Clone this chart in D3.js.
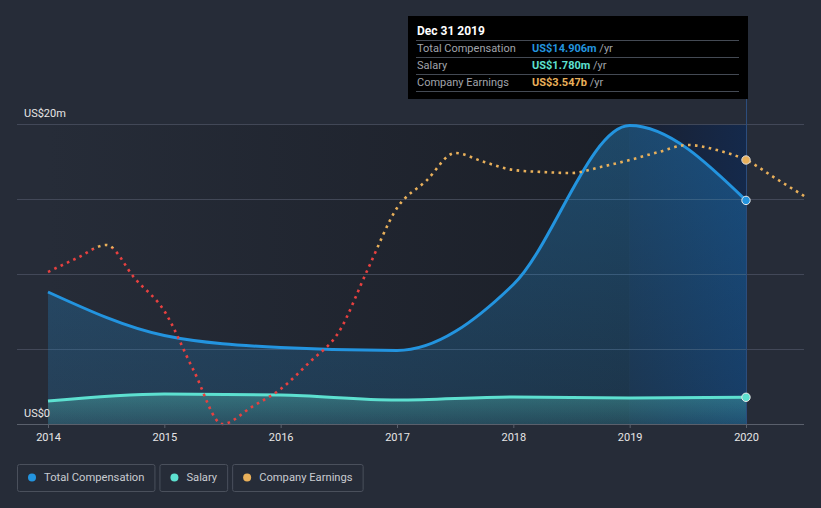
<!DOCTYPE html>
<html><head><meta charset="utf-8">
<script src="https://cdn.jsdelivr.net/npm/d3@7"></script>
<style>
html,body{margin:0;padding:0;background:#262c38;}
svg{display:block;font-family:Roboto,"Noto Sans",sans-serif;}
</style></head>
<body><svg id="c" width="821" height="508"></svg>
<script>
// ---- data ----
const compYears = [2014, 2015, 2016, 2017, 2018, 2019, 2020];
const totalComp = [8.8, 5.9, 5.1, 4.9, 9.3, 19.9, 14.906];      // US$ m
const salary    = [1.53, 2.0, 1.93, 1.6, 1.8, 1.73, 1.78];      // US$ m
const earnYears = [2014, 2014.25, 2014.5, 2014.75, 2015, 2015.25, 2015.5, 2015.75, 2016, 2016.25, 2016.5, 2016.75,
                   2017, 2017.25, 2017.5, 2017.75, 2018, 2018.25, 2018.5, 2018.75, 2019, 2019.25, 2019.5, 2019.75,
                   2020, 2020.25, 2020.5];
const earnings  = [2.042, 2.230, 2.405, 1.948, 1.518, 0.726, 0.0, 0.228, 0.470, 0.833, 1.236, 2.083,
                   2.902, 3.265, 3.641, 3.520, 3.413, 3.386, 3.372, 3.453, 3.547, 3.655, 3.749, 3.681,
                   3.547, 3.305, 3.063]; // US$ b
const xTicks = [2014, 2015, 2016, 2017, 2018, 2019, 2020];
const yTicks = [0, 5, 10, 15, 20];
const yTickLabels = {0: "US$0", 20: "US$20m"};
const earnThreshold = 2.36;
const tooltipTitle = "Dec 31 2019";
const tooltipRows = [
  {label: "Total Compensation", value: "US$14.906m", color: "#2394df"},
  {label: "Salary", value: "US$1.780m", color: "#5de0d0"},
  {label: "Company Earnings", value: "US$3.547b", color: "#e9b05a"}
];
const legendItems = [
  {label: "Total Compensation", color: "#2394df"},
  {label: "Salary", color: "#5de0d0"},
  {label: "Company Earnings", color: "#e9b05a"}
];

// ---- scales ----
const svg = d3.select("#c");
const x = d3.scaleLinear().domain([2014, 2020]).range([48, 746]);
const y = d3.scaleLinear().domain([0, 20]).range([424, 124]);
const y2 = d3.scaleLinear().domain([0, 3.547]).range([424, 160]);
const yTop = y(20), yBot = y(0);

const defs = svg.append("defs");
const g1 = defs.append("linearGradient").attr("id","plotbg").attr("gradientUnits","userSpaceOnUse")
  .attr("x1", x(2014)).attr("x2", x(2019)).attr("y1",0).attr("y2",0);
g1.append("stop").attr("offset","0").attr("stop-color","#262c38");
g1.append("stop").attr("offset","1").attr("stop-color","#1b1f28");
const g2 = defs.append("linearGradient").attr("id","band").attr("gradientUnits","userSpaceOnUse")
  .attr("x1", x(2019)).attr("x2", x(2020)).attr("y1",0).attr("y2",0);
g2.append("stop").attr("offset","0").attr("stop-color","#1a2030");
g2.append("stop").attr("offset","1").attr("stop-color","#14294b");
const g3 = defs.append("linearGradient").attr("id","compfill").attr("x1",0).attr("x2",0).attr("y1",0).attr("y2",1);
g3.append("stop").attr("offset","0").attr("stop-color","#2394df").attr("stop-opacity",0.35);
g3.append("stop").attr("offset","1").attr("stop-color","#2394df").attr("stop-opacity",0.18);
const g4 = defs.append("linearGradient").attr("id","salfill").attr("x1",0).attr("x2",0).attr("y1",0).attr("y2",1);
g4.append("stop").attr("offset","0").attr("stop-color","#5de0d0").attr("stop-opacity",0.32);
g4.append("stop").attr("offset","1").attr("stop-color","#5de0d0").attr("stop-opacity",0.12);
const g5 = defs.append("linearGradient").attr("id","earnstroke").attr("gradientUnits","userSpaceOnUse")
  .attr("x1",0).attr("x2",0).attr("y1", y2(earnThreshold)-0.5).attr("y2", y2(earnThreshold)+0.5);
g5.append("stop").attr("offset","0").attr("stop-color","#e9b05a");
g5.append("stop").attr("offset","1").attr("stop-color","#e8403f");

// backgrounds
svg.append("rect").attr("x", x(2014)).attr("y", yTop).attr("width", x(2019)-x(2014)).attr("height", yBot-yTop).attr("fill","url(#plotbg)");
svg.append("rect").attr("x", x(2019)).attr("y", yTop).attr("width", x(2020)-x(2019)).attr("height", yBot-yTop).attr("fill","url(#band)");

// gridlines
svg.append("g").selectAll("line").data(yTicks.filter(d=>d>0)).join("line")
  .attr("x1",17).attr("x2",804).attr("y1",d=>y(d)+0.5).attr("y2",d=>y(d)+0.5)
  .attr("stroke","#4a5060").attr("stroke-width",1).attr("opacity",0.8);

const curve = d3.curveMonotoneX;
const compData = compYears.map((d,i)=>({x:d, v: totalComp[i]}));
const salData = compYears.map((d,i)=>({x:d, v: salary[i]}));
const earnData = earnYears.map((d,i)=>({x:d, v: earnings[i]}));

svg.append("path").datum(compData)
  .attr("d", d3.area().x(d=>x(d.x)).y0(yBot).y1(d=>y(d.v)).curve(curve))
  .attr("fill","url(#compfill)");
svg.append("path").datum(salData)
  .attr("d", d3.area().x(d=>x(d.x)).y0(yBot).y1(d=>y(d.v)).curve(curve))
  .attr("fill","url(#salfill)");

// hover line
svg.append("line").attr("x1", x(2020)+0.5).attr("x2", x(2020)+0.5).attr("y1", 99).attr("y2", yBot)
  .attr("stroke","#2c4d7d").attr("stroke-width",1);

svg.append("path").datum(compData)
  .attr("d", d3.line().x(d=>x(d.x)).y(d=>y(d.v)).curve(curve))
  .attr("fill","none").attr("stroke","#2394df").attr("stroke-width",3);
svg.append("path").datum(salData)
  .attr("d", d3.line().x(d=>x(d.x)).y(d=>y(d.v)).curve(curve))
  .attr("fill","none").attr("stroke","#5de0d0").attr("stroke-width",3);
svg.append("path").datum(earnData)
  .attr("d", d3.line().x(d=>x(d.x)).y(d=>y2(d.v)).curve(curve))
  .attr("fill","none").attr("stroke","url(#earnstroke)").attr("stroke-width",2.6)
  .attr("stroke-dasharray","2.6 4.4");

// axis
svg.append("line").attr("x1",17).attr("x2",804).attr("y1",yBot+0.5).attr("y2",yBot+0.5)
  .attr("stroke","#5a606c").attr("stroke-width",1);
const ax = svg.append("g").attr("transform",`translate(0,${yBot})`)
  .call(d3.axisBottom(x).tickValues(xTicks).tickFormat(d3.format("d")).tickSize(4).tickPadding(5));
ax.select(".domain").remove();
ax.selectAll(".tick line").attr("stroke","#5a606c");
ax.selectAll(".tick text").attr("fill","#e6e6e6").attr("font-size",11).attr("font-family","Roboto, sans-serif");

// y labels
svg.append("g").selectAll("text").data(yTicks.filter(d=>yTickLabels[d])).join("text")
  .attr("x",24).attr("y",d=>y(d)-7).attr("fill","#e6e6e6").attr("font-size",11)
  .text(d=>yTickLabels[d]);

// end markers
const last = compYears.length-1;
svg.append("circle").attr("cx",x(2020)).attr("cy",y2(earnings[earnYears.indexOf(2020)])).attr("r",4.2)
  .attr("fill","#e9b05a").attr("stroke","#d8d8d8").attr("stroke-width",1);
svg.append("circle").attr("cx",x(compYears[last])).attr("cy",y(totalComp[last])).attr("r",4.2)
  .attr("fill","#2394df").attr("stroke","#e8e8e8").attr("stroke-width",1);
svg.append("circle").attr("cx",x(compYears[last])).attr("cy",y(salary[last])).attr("r",4.2)
  .attr("fill","#5de0d0").attr("stroke","#e8e8e8").attr("stroke-width",1);

// tooltip
const tt = svg.append("g");
tt.append("rect").attr("x",408).attr("y",16).attr("width",340).attr("height",83).attr("fill","#000");
tt.append("text").attr("x",417).attr("y",35).attr("fill","#fff").attr("font-size",12).attr("font-weight","bold").text(tooltipTitle);
[40,57,74,91].forEach(v=>tt.append("line").attr("x1",416).attr("x2",739).attr("y1",v+0.5).attr("y2",v+0.5).attr("stroke","#444a54"));
tooltipRows.forEach((r,i)=>{
  const by = 52 + i*17;
  tt.append("text").attr("x",417).attr("y",by).attr("fill","#a0a4ab").attr("font-size",11).text(r.label);
  const t = tt.append("text").attr("x",532).attr("y",by).attr("font-size",11);
  t.append("tspan").attr("fill",r.color).attr("font-weight","bold").text(r.value);
  t.append("tspan").attr("fill","#a0a4ab").text(" /yr");
});

// legend
const lg = svg.append("g");
let lx = 17;
legendItems.forEach(item=>{
  const gi = lg.append("g");
  const txt = gi.append("text").attr("x",lx+27).attr("y",481).attr("fill","#c8cbd0").attr("font-size",11.2).text(item.label);
  const w = txt.node().getComputedTextLength();
  const bw = w + 37;
  gi.insert("rect","text").attr("x",lx+0.5).attr("y",464.5).attr("width",bw).attr("height",27).attr("rx",2)
    .attr("fill","none").attr("stroke","#4a505c");
  gi.append("circle").attr("cx",lx+15).attr("cy",477.5).attr("r",4).attr("fill",item.color);
  lx += bw + 5;
});
</script></body></html>
